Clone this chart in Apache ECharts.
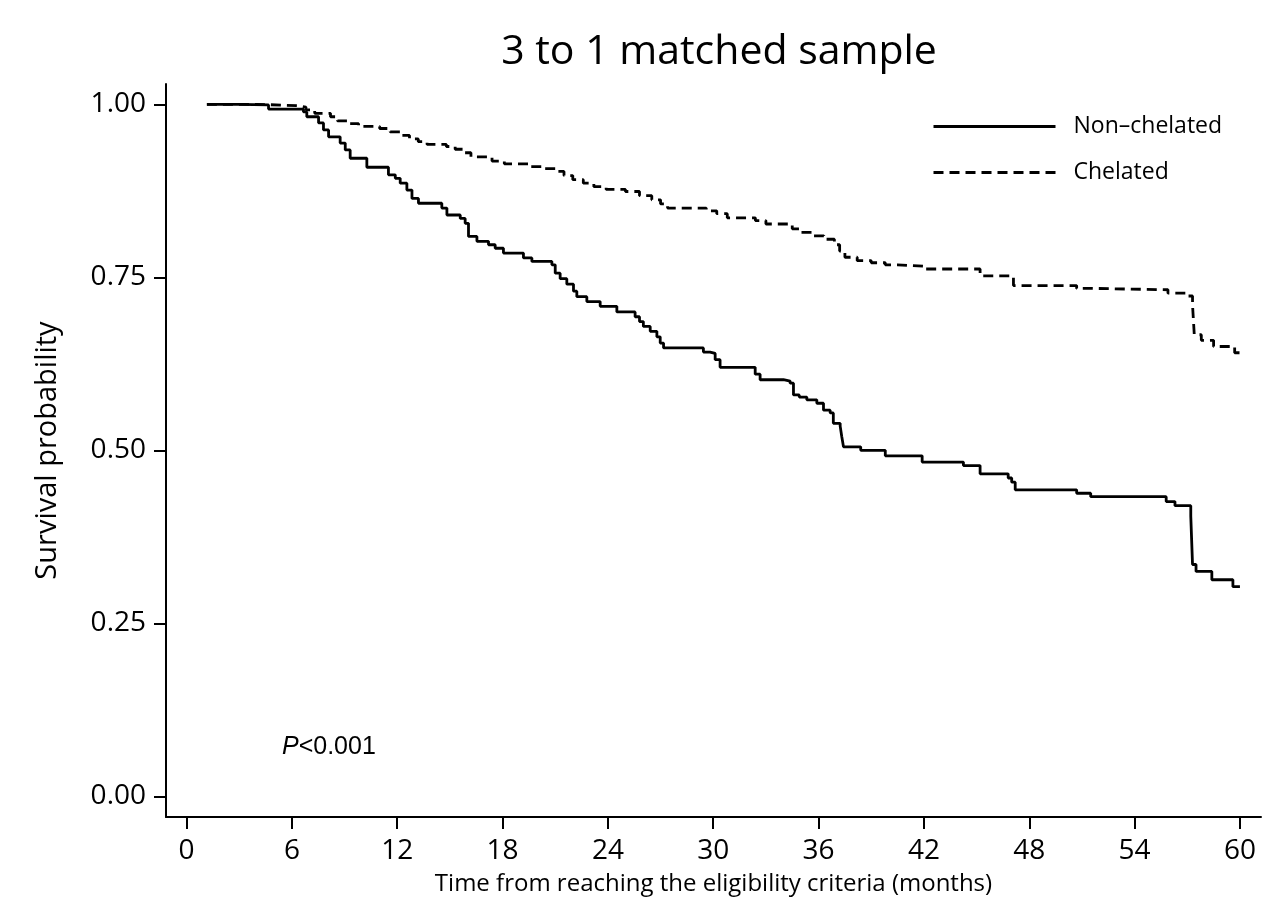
<!DOCTYPE html>
<html>
<head>
<meta charset="utf-8">
<script src="https://cdn.jsdelivr.net/npm/echarts@6/dist/echarts.min.js"></script>
<style>
html,body{margin:0;padding:0;background:#fff;}
#chart{width:1280px;height:910px;}
</style>
</head>
<body>
<div id="chart"></div>
<script>
// ---- data ----
const titleText = '3 to 1 matched sample';
const seriesNames = ['Non\u2013chelated', 'Chelated'];
const xTicks = [0, 6, 12, 18, 24, 30, 36, 42, 48, 54, 60];
const yTicks = [0, 0.25, 0.5, 0.75, 1.0];

const nonChelatedTime = [1.16, 2.96, 4.67, 6.66, 6.85, 7.52, 7.80, 8.09, 8.75, 9.04, 9.32, 10.27, 11.50, 11.89, 12.17, 12.55, 12.84, 13.21, 14.54, 14.83, 15.59, 15.87, 16.06, 16.54, 17.20, 17.58, 18.05, 19.19, 19.67, 20.81, 21.0, 21.28, 21.66, 22.04, 22.23, 22.80, 23.56, 24.51, 25.55, 25.8, 26.02, 26.41, 26.79, 26.98, 27.17, 29.44, 29.82, 30.11, 30.39, 32.39, 32.67, 34.0, 34.38, 34.57, 34.9, 35.33, 35.90, 36.28, 36.66, 36.84, 37.23, 37.32, 37.42, 38.4, 39.8, 41.9, 44.25, 45.2, 46.8, 47.0, 47.2, 50.7, 51.5, 55.8, 56.3, 57.2, 57.3, 57.5, 58.4, 59.6, 60.0];
const nonChelatedSurv = [1.000, 0.999, 0.993, 0.989, 0.982, 0.973, 0.963, 0.953, 0.944, 0.934, 0.922, 0.909, 0.898, 0.893, 0.886, 0.876, 0.864, 0.857, 0.850, 0.840, 0.835, 0.828, 0.809, 0.802, 0.797, 0.792, 0.785, 0.778, 0.773, 0.768, 0.756, 0.748, 0.740, 0.730, 0.722, 0.715, 0.708, 0.700, 0.693, 0.686, 0.679, 0.672, 0.664, 0.655, 0.648, 0.642, 0.640, 0.631, 0.620, 0.610, 0.602, 0.600, 0.597, 0.580, 0.577, 0.573, 0.568, 0.558, 0.554, 0.539, 0.535, 0.520, 0.505, 0.500, 0.492, 0.483, 0.478, 0.466, 0.460, 0.454, 0.443, 0.438, 0.433, 0.426, 0.420, 0.405, 0.335, 0.325, 0.313, 0.303, 0.303];

const chelatedTime = [1.16, 4.0, 6.3, 6.8, 7.3, 8.2, 8.6, 9.3, 9.8, 11.0, 11.6, 12.2, 12.7, 13.2, 13.7, 14.8, 15.3, 15.8, 16.2, 17.4, 18.1, 19.6, 20.3, 21.0, 21.5, 22.0, 22.6, 23.2, 23.9, 25.0, 25.8, 26.5, 27.0, 27.4, 29.6, 30.2, 30.8, 32.4, 33.0, 34.5, 35.0, 35.7, 36.3, 36.9, 37.2, 37.5, 38.2, 39.0, 39.8, 40.5, 42.0, 45.2, 47.1, 50.7, 51.5, 55.9, 56.9, 57.3, 57.4, 57.8, 58.5, 59.7, 60.0];
const chelatedSurv = [1.000, 0.998, 0.996, 0.992, 0.987, 0.982, 0.976, 0.972, 0.968, 0.965, 0.960, 0.955, 0.950, 0.946, 0.942, 0.939, 0.935, 0.930, 0.924, 0.918, 0.914, 0.910, 0.907, 0.903, 0.897, 0.891, 0.886, 0.881, 0.877, 0.874, 0.868, 0.862, 0.856, 0.850, 0.846, 0.842, 0.836, 0.832, 0.827, 0.820, 0.815, 0.810, 0.805, 0.797, 0.788, 0.779, 0.774, 0.771, 0.768, 0.766, 0.762, 0.752, 0.738, 0.734, 0.732, 0.727, 0.723, 0.710, 0.667, 0.659, 0.650, 0.641, 0.641];

function zip(a, b) { return a.map((v, i) => [v, b[i]]); }

const chart = echarts.init(document.getElementById('chart'), null, { renderer: 'canvas' });
const mainFont = 'Open Sans';

chart.setOption({
  backgroundColor: '#ffffff',
  animation: false,
  title: {
    text: titleText,
    left: 714,
    top: 27,
    textAlign: 'center',
    textStyle: { fontFamily: mainFont, fontSize: 41, fontWeight: 'normal', color: '#000' }
  },
  legend: {
    orient: 'vertical',
    left: 932,
    top: 115,
    padding: 0,
    itemWidth: 122,
    itemHeight: 14,
    itemGap: 23,
    data: seriesNames,
    itemStyle: { color: 'rgba(0,0,0,0)', borderWidth: 0, opacity: 0 },
    lineStyle: { width: 3, color: '#000' },
    textStyle: { fontFamily: mainFont, fontSize: 23, color: '#000', padding: [0, 0, 0, 13] },
    selectedMode: false
  },
  grid: { left: 166, right: 19, top: 84, bottom: 93, containLabel: false },
  xAxis: {
    type: 'value',
    min: -1.17,
    max: 61.2,
    name: 'Time from reaching the eligibility criteria (months)',
    nameLocation: 'middle',
    nameGap: 55,
    nameTextStyle: { fontFamily: mainFont, fontSize: 24, color: '#000' },
    axisLine: { show: true, onZero: false, lineStyle: { color: '#000', width: 2 } },
    axisTick: { show: true, inside: false, length: 12, lineStyle: { color: '#000', width: 2 }, customValues: xTicks },
    axisLabel: { fontFamily: mainFont, fontSize: 28, color: '#000', margin: 20, customValues: xTicks, formatter: v => String(v) },
    splitLine: { show: false }
  },
  yAxis: {
    type: 'value',
    min: -0.0298,
    max: 1.0293,
    name: 'Survival probability',
    nameLocation: 'middle',
    nameGap: 104,
    nameTextStyle: { fontFamily: mainFont, fontSize: 29, color: '#000' },
    axisLine: { show: true, onZero: false, lineStyle: { color: '#000', width: 2 } },
    axisTick: { show: true, inside: false, length: 12, lineStyle: { color: '#000', width: 2 }, customValues: yTicks },
    axisLabel: { fontFamily: mainFont, fontSize: 28, color: '#000', margin: 20, customValues: yTicks, formatter: v => v.toFixed(2) },
    splitLine: { show: false }
  },
  graphic: [{
    type: 'text',
    left: 282,
    top: 735,
    style: {
      text: '{i|P}{n|<0.001}',
      rich: {
        i: { fontFamily: 'Liberation Sans', fontStyle: 'italic', fontSize: 25, fill: '#000' },
        n: { fontFamily: 'Liberation Sans', fontSize: 25, fill: '#000' }
      }
    }
  }],
  series: [
    {
      name: seriesNames[0],
      type: 'line',
      step: 'end',
      symbol: 'none',
      data: zip(nonChelatedTime, nonChelatedSurv),
      lineStyle: { color: '#000', width: 2.8, type: 'solid' },
      itemStyle: { color: '#000' }
    },
    {
      name: seriesNames[1],
      type: 'line',
      step: 'end',
      symbol: 'none',
      data: zip(chelatedTime, chelatedSurv),
      lineStyle: { color: '#000', width: 2.8, type: [10, 6] },
      itemStyle: { color: '#000' }
    }
  ]
});
</script>
</body>
</html>
